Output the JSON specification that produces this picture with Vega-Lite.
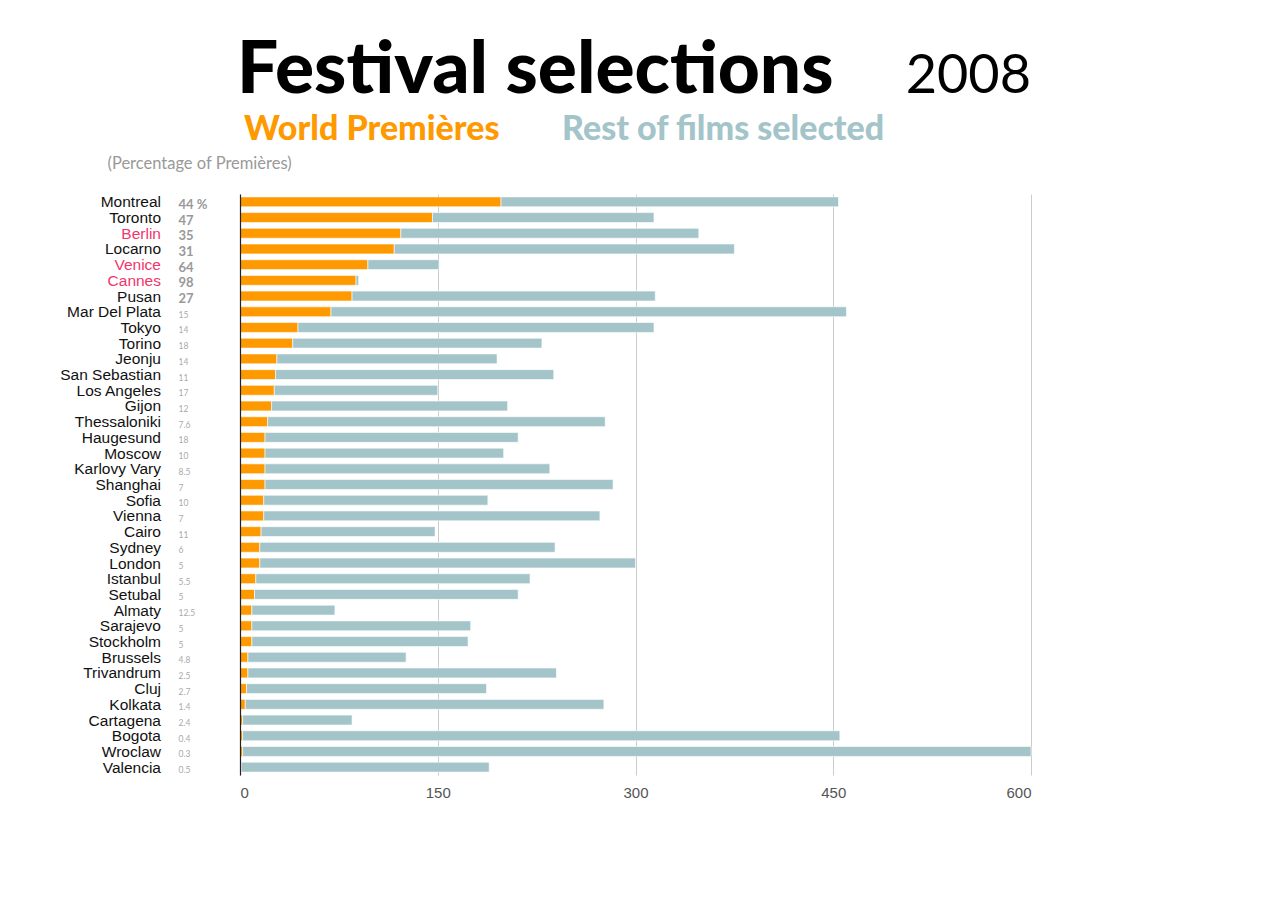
{
  "$schema": "https://vega.github.io/schema/vega-lite/v6.json",
  "background": "white",
  "autosize": {"type": "pad"},
  "padding": {"left": 59, "top": 35, "right": 10, "bottom": 10},
  "data": {
    "values": [
      {"city": "Montreal", "rank": 1, "pct": "44 %", "World Premières": 198, "Rest of films selected": 256},
      {"city": "Toronto", "rank": 2, "pct": "47", "World Premières": 146, "Rest of films selected": 168},
      {"city": "Berlin", "rank": 3, "pct": "35", "World Premières": 122, "Rest of films selected": 226},
      {"city": "Locarno", "rank": 4, "pct": "31", "World Premières": 117, "Rest of films selected": 258},
      {"city": "Venice", "rank": 5, "pct": "64", "World Premières": 97, "Rest of films selected": 54},
      {"city": "Cannes", "rank": 6, "pct": "98", "World Premières": 88, "Rest of films selected": 2},
      {"city": "Pusan", "rank": 7, "pct": "27", "World Premières": 85, "Rest of films selected": 230},
      {"city": "Mar Del Plata", "rank": 8, "pct": "15", "World Premières": 69, "Rest of films selected": 391},
      {"city": "Tokyo", "rank": 9, "pct": "14", "World Premières": 44, "Rest of films selected": 270},
      {"city": "Torino", "rank": 10, "pct": "18", "World Premières": 40, "Rest of films selected": 189},
      {"city": "Jeonju", "rank": 11, "pct": "14", "World Premières": 28, "Rest of films selected": 167},
      {"city": "San Sebastian", "rank": 12, "pct": "11", "World Premières": 27, "Rest of films selected": 211},
      {"city": "Los Angeles", "rank": 13, "pct": "17", "World Premières": 26, "Rest of films selected": 124},
      {"city": "Gijon", "rank": 14, "pct": "12", "World Premières": 24, "Rest of films selected": 179},
      {"city": "Thessaloniki", "rank": 15, "pct": "7.6", "World Premières": 21, "Rest of films selected": 256},
      {"city": "Haugesund", "rank": 16, "pct": "18", "World Premières": 19, "Rest of films selected": 192},
      {"city": "Moscow", "rank": 17, "pct": "10", "World Premières": 19, "Rest of films selected": 181},
      {"city": "Karlovy Vary", "rank": 18, "pct": "8.5", "World Premières": 19, "Rest of films selected": 216},
      {"city": "Shanghai", "rank": 19, "pct": "7", "World Premières": 19, "Rest of films selected": 264},
      {"city": "Sofia", "rank": 20, "pct": "10", "World Premières": 18, "Rest of films selected": 170},
      {"city": "Vienna", "rank": 21, "pct": "7", "World Premières": 18, "Rest of films selected": 255},
      {"city": "Cairo", "rank": 22, "pct": "11", "World Premières": 16, "Rest of films selected": 132},
      {"city": "Sydney", "rank": 23, "pct": "6", "World Premières": 15, "Rest of films selected": 224},
      {"city": "London", "rank": 24, "pct": "5", "World Premières": 15, "Rest of films selected": 285},
      {"city": "Istanbul", "rank": 25, "pct": "5.5", "World Premières": 12, "Rest of films selected": 208},
      {"city": "Setubal", "rank": 26, "pct": "5", "World Premières": 11, "Rest of films selected": 200},
      {"city": "Almaty", "rank": 27, "pct": "12.5", "World Premières": 9, "Rest of films selected": 63},
      {"city": "Sarajevo", "rank": 28, "pct": "5", "World Premières": 9, "Rest of films selected": 166},
      {"city": "Stockholm", "rank": 29, "pct": "5", "World Premières": 9, "Rest of films selected": 164},
      {"city": "Brussels", "rank": 30, "pct": "4.8", "World Premières": 6, "Rest of films selected": 120},
      {"city": "Trivandrum", "rank": 31, "pct": "2.5", "World Premières": 6, "Rest of films selected": 234},
      {"city": "Cluj", "rank": 32, "pct": "2.7", "World Premières": 5, "Rest of films selected": 182},
      {"city": "Kolkata", "rank": 33, "pct": "1.4", "World Premières": 4, "Rest of films selected": 272},
      {"city": "Cartagena", "rank": 34, "pct": "2.4", "World Premières": 2, "Rest of films selected": 83},
      {"city": "Bogota", "rank": 35, "pct": "0.4", "World Premières": 2, "Rest of films selected": 453},
      {"city": "Wroclaw", "rank": 36, "pct": "0.3", "World Premières": 2, "Rest of films selected": 598},
      {"city": "Valencia", "rank": 37, "pct": "0.5", "World Premières": 1, "Rest of films selected": 188}
    ]
  },
  "spacing": 0,
  "bounds": "flush",
  "hconcat": [
    {
      "width": 60,
      "height": 581,
      "title": {
        "text": "Festival selections",
        "anchor": "start",
        "frame": "group",
        "font": "Lato",
        "fontSize": 73,
        "fontWeight": 900,
        "color": "#000",
        "baseline": "alphabetic",
        "offset": -11,
        "dx": 57
      },
      "encoding": {
        "y": {
          "field": "city",
          "type": "nominal",
          "sort": {"field": "rank"},
          "scale": {"paddingInner": 0.37, "paddingOuter": 0.185},
          "axis": {
            "domain": false,
            "ticks": false,
            "labelPadding": 19.5,
            "labelFont": "Liberation Sans",
            "labelFontSize": 15.5,
            "labelColor": {
              "condition": {"test": "indexof(['Berlin', 'Venice', 'Cannes'], datum.value) >= 0", "value": "#f2356c"},
              "value": "#111111"
            },
            "title": "(Percentage of Premières)",
            "titleFont": "Lato",
            "titleFontSize": 16.5,
            "titleFontWeight": "normal",
            "titleColor": "#999999",
            "titleAngle": 0,
            "titleAlign": "left",
            "titleBaseline": "alphabetic",
            "titleX": -73,
            "titleY": -26
          }
        }
      },
      "layer": [
        {
          "transform": [{"filter": "datum.rank <= 7"}],
          "mark": {"type": "text", "align": "left", "baseline": "middle", "dx": -31.5, "dy": 3, "font": "Lato", "fontWeight": "bold", "fontSize": 13, "color": "#999999"},
          "encoding": {"text": {"field": "pct"}}
        },
        {
          "transform": [{"filter": "datum.rank > 7"}],
          "mark": {"type": "text", "align": "left", "baseline": "middle", "dx": -31.5, "dy": 3, "font": "Lato", "fontSize": 8.5, "color": "#aaaaaa"},
          "encoding": {"text": {"field": "pct"}}
        }
      ]
    },
    {
      "width": 791,
      "height": 581,
      "title": {
        "text": "2008",
        "anchor": "end",
        "frame": "group",
        "font": "Lato",
        "fontSize": 54,
        "fontWeight": "normal",
        "color": "#000",
        "baseline": "alphabetic",
        "offset": 47
      },
      "transform": [
        {"fold": ["World Premières", "Rest of films selected"], "as": ["key", "value"]}
      ],
      "mark": {"type": "bar", "stroke": "white", "strokeWidth": 0.6},
      "encoding": {
        "y": {
          "field": "city",
          "type": "nominal",
          "sort": {"field": "rank"},
          "scale": {"paddingInner": 0.37, "paddingOuter": 0.185},
          "axis": {
            "labels": false,
            "ticks": false,
            "title": null,
            "domainColor": "#222222",
            "domainWidth": 1.2,
            "zindex": 1
          }
        },
        "x": {
          "field": "value",
          "type": "quantitative",
          "stack": "zero",
          "scale": {"domain": [0, 600], "nice": false},
          "axis": {
            "values": [0, 150, 300, 450, 600],
            "grid": true,
            "gridColor": "#cccccc",
            "domain": false,
            "ticks": false,
            "title": null,
            "labelFont": "Liberation Sans",
            "labelFontSize": 15,
            "labelColor": "#555555",
            "labelPadding": 10
          }
        },
        "color": {
          "field": "key",
          "type": "nominal",
          "scale": {"domain": ["World Premières", "Rest of films selected"], "range": ["#ff9900", "#a3c4c9"]},
          "legend": {
            "title": null,
            "orient": "none",
            "direction": "horizontal",
            "legendX": 30,
            "legendY": -81,
            "symbolSize": 0,
            "symbolOpacity": 0,
            "symbolStrokeWidth": 0,
            "labelOffset": 0,
            "columnPadding": 28,
            "labelFont": "Lato",
            "labelFontSize": 34,
            "labelFontWeight": 900,
            "labelLimit": 1000,
            "labelColor": {"expr": "datum.label === 'World Premières' ? '#ff9900' : '#a3c4c9'"}
          }
        },
        "order": {"field": "key", "sort": "descending"}
      }
    }
  ],
  "config": {
    "view": {"stroke": null}
  }
}
